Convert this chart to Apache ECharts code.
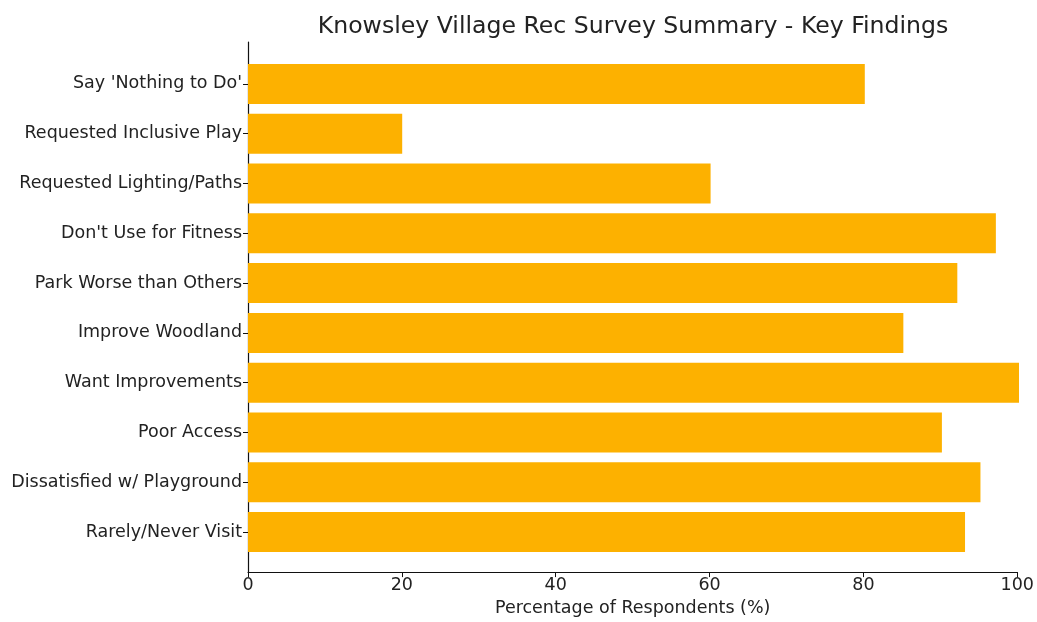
<!DOCTYPE html>
<html>
<head>
<meta charset="utf-8">
<script src="https://cdn.jsdelivr.net/npm/echarts@6/dist/echarts.min.js"></script>
<style>html,body{margin:0;padding:0;background:#fff}#c{width:1037px;height:622px}</style>
</head>
<body>
<div id="c"></div>
<script>
const categories = ["Say 'Nothing to Do'", "Requested Inclusive Play", "Requested Lighting/Paths", "Don't Use for Fitness", "Park Worse than Others", "Improve Woodland", "Want Improvements", "Poor Access", "Dissatisfied w/ Playground", "Rarely/Never Visit"];
const values = [80, 20, 60, 97, 92, 85, 100, 90, 95, 93];
const xTicks = [0, 20, 40, 60, 80, 100];

const FONT = 'DejaVu Sans';
const TXT = '#222';
const chart = echarts.init(document.getElementById('c'), null, {renderer: 'canvas'});
chart.setOption({
  animation: false,
  backgroundColor: '#fff',
  title: {
    text: 'Knowsley Village Rec Survey Summary - Key Findings',
    left: 628, top: 10, textAlign: 'center',
    textStyle: {fontFamily: FONT, fontSize: 23.6, fontWeight: 'normal', color: TXT}
  },
  grid: [
    {left: 248, right: 18, top: 42, bottom: 45, containLabel: false},
    {left: 248, right: 18, top: 59, bottom: 65, containLabel: false}
  ],
  xAxis: [
    {
      gridIndex: 0, type: 'value', min: xTicks[0], max: xTicks[xTicks.length - 1], interval: 20,
      name: 'Percentage of Respondents (%)', nameLocation: 'middle', nameGap: 22,
      nameTextStyle: {fontFamily: FONT, fontSize: 17.5, color: TXT},
      axisLine: {show: true, lineStyle: {color: '#111', width: 1.2}},
      axisTick: {show: true, length: 5, lineStyle: {color: '#111'}},
      axisLabel: {fontFamily: FONT, fontSize: 17.5, color: TXT, margin: 4},
      splitLine: {show: false}
    },
    {
      gridIndex: 1, type: 'value', min: 0, max: 100, show: false
    }
  ],
  yAxis: [
    {
      gridIndex: 0, type: 'value', min: 0, max: 1,
      axisLine: {show: true, onZero: false, lineStyle: {color: '#111', width: 1.2}},
      axisTick: {show: false}, axisLabel: {show: false}, splitLine: {show: false}
    },
    {
      gridIndex: 1, type: 'category', data: categories, inverse: true,
      axisLine: {show: false},
      axisTick: {show: true, alignWithLabel: true, length: 5, lineStyle: {color: '#111'}},
      axisLabel: {fontFamily: FONT, fontSize: 17.5, color: TXT, margin: 6},
      splitLine: {show: false}
    }
  ],
  series: [{
    type: 'bar', xAxisIndex: 1, yAxisIndex: 1,
    data: values, barWidth: 40,
    itemStyle: {color: '#FDB100'}
  }]
});
</script>
</body>
</html>
